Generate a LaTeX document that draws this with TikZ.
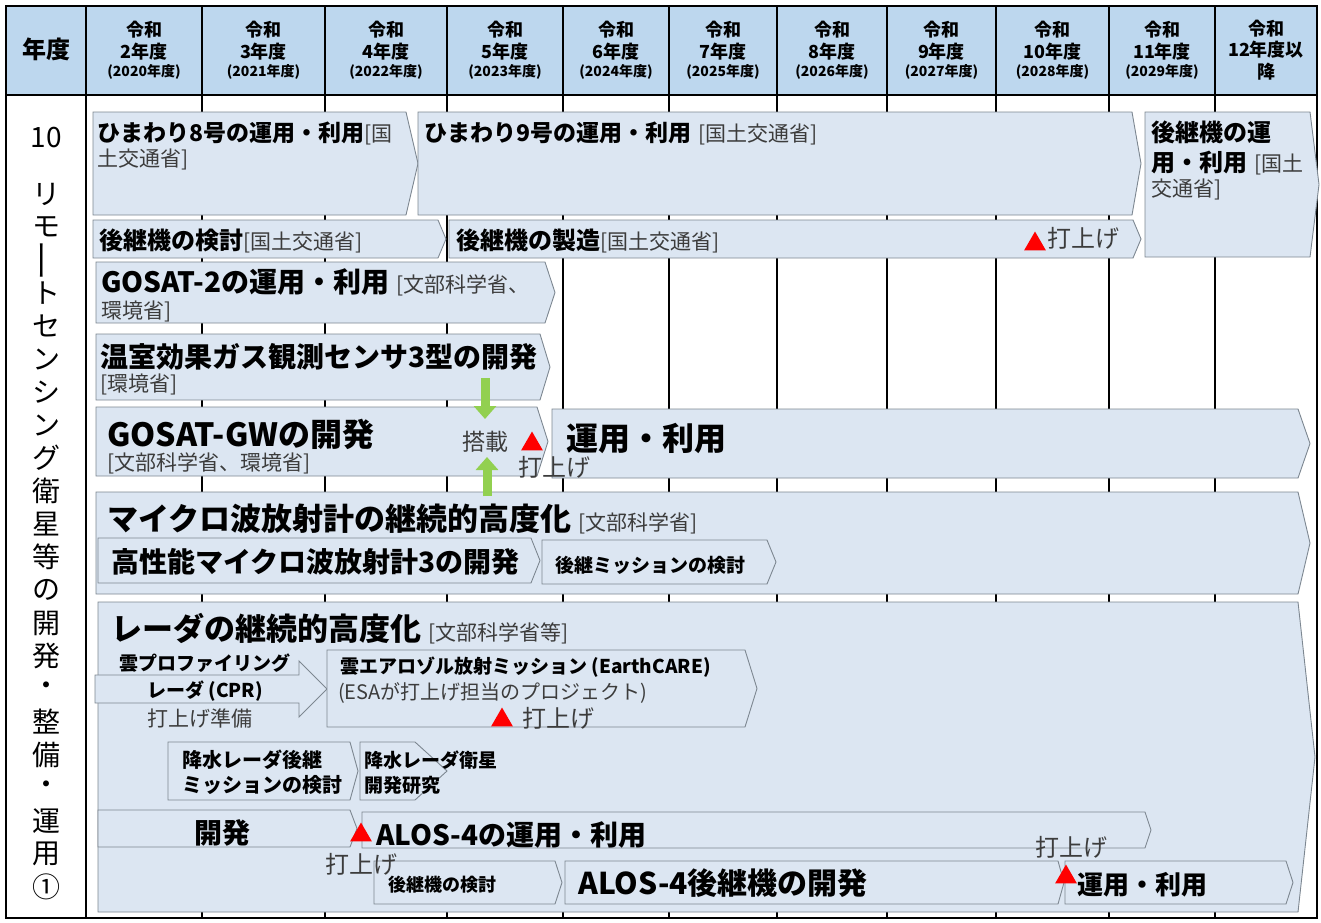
\documentclass[tikz,border=0pt]{standalone}
\usepackage{fontspec}
\setmainfont{Noto Sans CJK JP}
\usetikzlibrary{arrows.meta,shapes.geometric}
\definecolor{headblue}{RGB}{189,215,238}
\definecolor{barblue}{RGB}{220,230,242}
\definecolor{bargray}{RGB}{125,135,145}
\definecolor{inkgray}{RGB}{60,60,60}
\definecolor{mntgreen}{RGB}{146,208,80}
\tikzset{
  barbox/.style={fill=barblue, draw=bargray, line width=0.9pt},
  colline/.style={line width=1.4pt},
  lbl/.style={anchor=base west, inner sep=0pt},
  ctr/.style={anchor=base, inner sep=0pt},
  launch/.style={regular polygon, regular polygon sides=3, fill=red, inner sep=0pt, minimum size=25pt},
  mount/.style={line width=9pt, mntgreen, -{Triangle[width=22pt,length=13pt]}},
}
\newcommand{\fsz}[1]{\fontsize{#1}{#1}\selectfont}
\newcommand{\bigtxt}[2]{{\fsz{#1}\bfseries #2}}
\newcommand{\smltxt}[2]{{\fsz{#1}\color{inkgray}#2}}
\newcommand{\gap}{\hspace{7pt}}
% bar with a pointed right end: name, x1, y1, x body, x tip, y2
\newcommand{\taskbar}[6]{%
  \draw[barbox] (#2,#3) coordinate (#1-nw) -- (#4,#3) -- (#5,{(#3+#6)/2}) coordinate (#1-e)
    -- (#4,#6) -- (#2,#6) coordinate (#1-sw) -- cycle;}

\begin{document}
\begin{tikzpicture}[x=1pt,y=-1pt]
    \useasboundingbox (0,0) rectangle (1321,922);
    % table
    \fill[headblue] (6,6) rectangle (1317,95);
    \foreach \x in {202,325,447,563,669,777,887,996,1109,1215}
        \draw[colline] (\x,6) -- (\x,918);
    \draw[colline] (86,6) -- (86,918);
    \draw[line width=2pt] (6,95) -- (1317,95);
    \draw[line width=2.5pt] (6,6) rectangle (1317,918);
    % header
    \node[font=\fsz{24}\bfseries] (hdr) at (46,49) {年度};
    \foreach \cx/\n in {144/2,263.5/3,386/4,505/5,616/6,723/7,832/8,941.5/9,1052.5/10,1162/11}{
        \pgfmathtruncatemacro\yr{2018+\n}
        \node[font=\fsz{18}\bfseries] (era\n) at (\cx,30) {令和};
        \node[font=\fsz{18}\bfseries] (fy\n) at (\cx,52) {\n 年度};
        \node[font=\fsz{14}\bfseries] (ad\n) at (\cx,72) {(\yr 年度)};
    }
    \node[font=\fsz{18}\bfseries] (era12) at (1266,29) {令和};
    \node[font=\fsz{18}\bfseries] (fy12) at (1266,50) {12年度以};
    \node[font=\fsz{18}\bfseries] (ad12) at (1266,72) {降};
    % left column
    \node[font=\fsz{28}] (no) at (46,138) {10};
    \foreach \ch [count=\i from 0] in {リ,モ,{\rotatebox{90}{\scalebox{1.5}[1]{ー}}},ト,セ,ン,シ,ン,グ,衛,星,等,の,開,発,・,整,備,・,運,用,①}
        \node[font=\fsz{28}] (v\i) at (46,194+33*\i) {\ch};

    % bars
    \taskbar{him8}{93}{112}{406}{418}{215}
    \taskbar{him9}{418}{112}{1132}{1141}{215}
    \taskbar{himN}{1145}{112}{1310}{1319}{257}
    \taskbar{hmN}{93}{220}{438}{446}{258}
    \taskbar{hmM}{449}{220}{1133}{1141}{258}
    \taskbar{gos2}{96}{262}{545}{555}{323}
    \taskbar{gs3}{96}{334}{540}{550}{400}
    \taskbar{gw}{96}{407}{537}{548}{476}
    \taskbar{gwop}{552}{409}{1298}{1310}{478}
    \taskbar{mwr}{96}{492}{1298}{1310}{594}
    \taskbar{amsr}{98}{538}{531}{540}{583}
    \taskbar{amsrN}{542}{540}{767}{776}{584}
    \taskbar{rad}{98}{602}{1298}{1315}{912}
    \draw[barbox] (95,675) -- (299,675) -- (299,661) -- (327,689) -- (299,717) -- (299,703) -- (95,703) -- cycle;
    \taskbar{ecare}{327}{650}{745}{757}{727}
    \taskbar{gpmN}{168}{742}{350}{358}{800}
    \taskbar{gpmD}{360}{742}{415}{447}{800}
    \taskbar{alD}{98}{810}{350}{357}{847}
    \taskbar{alop}{362}{812}{1145}{1151}{848}
    \taskbar{alNs}{374}{861}{555}{562}{904}
    \taskbar{alNd}{565}{861}{1058}{1064}{904}
    \taskbar{alNo}{1065}{861}{1286}{1293}{904}

    % himawari
    \node[lbl] (t-him8a) at (97,141) {\bigtxt{23}{ひまわり8号の運用・利用}\smltxt{21}{[国}};
    \node[lbl] (t-him8b) at (97,166) {\smltxt{21}{土交通省]}};
    \node[lbl] (t-him9) at (424,141) {\bigtxt{23}{ひまわり9号の運用・利用}\gap\smltxt{21}{[国土交通省]}};
    \node[lbl] (t-himNa) at (1151,141) {\bigtxt{24}{後継機の運}};
    \node[lbl] (t-himNb) at (1151,171) {\bigtxt{24}{用・利用}\gap\smltxt{21}{[国土}};
    \node[lbl] (t-himNc) at (1151,196) {\smltxt{21}{交通省]}};
    \node[lbl] (t-hmN) at (99,249) {\bigtxt{24}{後継機の検討}\smltxt{21}{[国土交通省]}};
    \node[lbl] (t-hmM) at (456,249) {\bigtxt{24}{後継機の製造}\smltxt{21}{[国土交通省]}};
    \node[launch] (l-hmM) at (1035,244) {};
    \node[lbl] (u-hmM) at (1047,247) {\smltxt{24}{打上げ}};
    % GOSAT
    \node[lbl] (t-gos2a) at (101,292) {\bigtxt{28}{GOSAT-2の運用・利用}\gap\smltxt{21}{[文部科学省、}};
    \node[lbl] (t-gos2b) at (101,318) {\smltxt{21}{環境省]}};
    \node[lbl] (t-gs3a) at (100,367) {\bigtxt{28}{温室効果ガス観測センサ3型の開発}};
    \node[lbl] (t-gs3b) at (100,391) {\smltxt{21}{[環境省]}};
    \node[lbl] (t-gwa) at (107,446) {\bigtxt{32}{GOSAT-GWの開発}};
    \node[lbl] (t-gwb) at (107,470) {\smltxt{21}{[文部科学省、環境省]}};
    \node[lbl] (t-mnt) at (462,450) {\smltxt{23}{搭載}};
    \node[launch] (l-gw) at (532,444) {};
    \node[lbl] (u-gw) at (518,476) {\smltxt{24}{打上げ}};
    \node[lbl] (t-gwop) at (566,450) {\bigtxt{32}{運用・利用}};
    \coordinate (mnt-a) at (485,378);
    \coordinate (mnt-b) at (485,419);
    \coordinate (mnt-c) at (487,496);
    \coordinate (mnt-d) at (487,457);
    \draw[mount] (mnt-a) -- (mnt-b);
    \draw[mount] (mnt-c) -- (mnt-d);
    % microwave
    \node[lbl] (t-mwr) at (107,530) {\bigtxt{31}{マイクロ波放射計の継続的高度化}\gap\smltxt{21}{[文部科学省]}};
    \node[lbl] (t-amsr) at (111,572) {\bigtxt{28}{高性能マイクロ波放射計3の開発}};
    \node[lbl] (t-amsrN) at (555,572) {\bigtxt{19}{後継ミッションの検討}};
    % radar
    \node[lbl] (t-rad) at (111,640) {\bigtxt{31}{レーダの継続的高度化}\gap\smltxt{21}{[文部科学省等]}};
    \node[ctr] (t-cpra) at (205,670) {\bigtxt{19}{雲プロファイリング}};
    \node[ctr] (t-cprb) at (205,697) {\bigtxt{19}{レーダ (CPR)}};
    \node[ctr] (t-cprc) at (200,726) {\smltxt{21}{打上げ準備}};
    \node[lbl] (t-eca) at (340,673) {\bigtxt{19}{雲エアロゾル放射ミッション (EarthCARE)}};
    \node[lbl] (t-ecb) at (338,699) {\smltxt{20}{(ESAが打上げ担当のプロジェクト)}};
    \node[launch] (l-ec) at (502,720) {};
    \node[lbl] (u-ec) at (522,727) {\smltxt{24}{打上げ}};
    \node[lbl] (t-gpmNa) at (182,767) {\bigtxt{20}{降水レーダ後継}};
    \node[lbl] (t-gpmNb) at (182,792) {\bigtxt{20}{ミッションの検討}};
    \node[lbl] (t-gpmDa) at (364,767) {\bigtxt{19}{降水レーダ衛星}};
    \node[lbl] (t-gpmDb) at (364,792) {\bigtxt{19}{開発研究}};
    % ALOS
    \node[ctr] (t-alD) at (222,843) {\bigtxt{28}{開発}};
    \node[launch] (l-al) at (361,835) {};
    \node[ctr] (u-al) at (361,873) {\smltxt{24}{打上げ}};
    \node[lbl] (t-alop) at (376,845) {\bigtxt{28}{ALOS-4の運用・利用}};
    \node[lbl] (t-alNs) at (388,891) {\bigtxt{18}{後継機の検討}};
    \node[lbl] (t-alNd) at (578,894) {\bigtxt{30}{ALOS-4後継機の開発}};
    \node[ctr] (u-alN) at (1071,856) {\smltxt{24}{打上げ}};
    \node[launch] (l-alN) at (1066,877) {};
    \node[lbl] (t-alNo) at (1077,894) {\bigtxt{26}{運用・利用}};
\end{tikzpicture}
\end{document}
